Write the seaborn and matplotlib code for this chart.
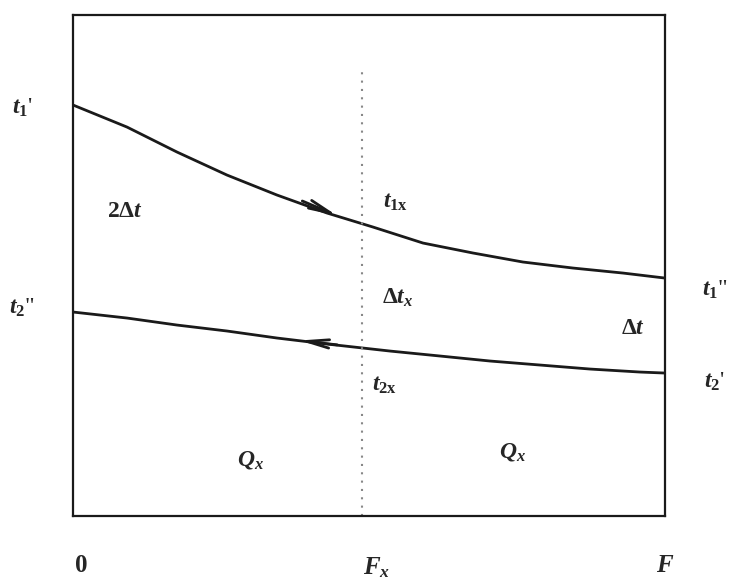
import numpy as np
import pandas as pd
import matplotlib
matplotlib.use('Agg')
import matplotlib.pyplot as plt
import matplotlib.transforms as mtransforms
import seaborn as sns

# Curve points (x as fraction of F, y as fraction of box height)
hot_x = [0.0, 0.0912, 0.1757, 0.2601, 0.3446, 0.4291, 0.5068, 0.5912, 0.6757, 0.7601, 0.8446, 0.9291, 1.0]
hot_y = [0.8204, 0.7764, 0.7265, 0.6806, 0.6407, 0.6048, 0.5768, 0.5449, 0.5250, 0.5070, 0.4950, 0.4850, 0.4750]
cold_x = [0.0, 0.0912, 0.1757, 0.2601, 0.3446, 0.4291, 0.5355, 0.6199, 0.7044, 0.7889, 0.8733, 0.9578, 1.0]
cold_y = [0.4072, 0.3952, 0.3812, 0.3693, 0.3553, 0.3433, 0.3293, 0.3194, 0.3094, 0.3014, 0.2934, 0.2874, 0.2854]
fx = 0.488
tick_pos = [0.0, fx, 1.0]
tick_labels = ['$\\mathbf{0}$', '$F_x$', '$F$']

sns.set_style('white')
plt.rcParams['font.family'] = ['Liberation Serif', 'DejaVu Serif']
plt.rcParams['mathtext.fontset'] = 'custom'
plt.rcParams['mathtext.it'] = 'Liberation Serif:italic:bold'
plt.rcParams['mathtext.rm'] = 'Liberation Serif:bold'
plt.rcParams['mathtext.bf'] = 'Liberation Serif:bold'

fig = plt.figure(figsize=(7.43, 5.88), dpi=100)
ax = fig.add_axes([0.0983, 0.1224, 0.7967, 0.8520])

df = pd.concat([
    pd.DataFrame({'x': hot_x, 'y': hot_y, 'fluid': 'hot'}),
    pd.DataFrame({'x': cold_x, 'y': cold_y, 'fluid': 'cold'}),
])
sns.lineplot(data=df, x='x', y='y', units='fluid', estimator=None, sort=False,
             color='#1a1a1a', linewidth=2.0, ax=ax, legend=False)

ax.plot([fx, fx], [0, 0.896], linestyle=(0, (1, 3)), color='#888888', linewidth=1.5)

# flow arrows
arrow = dict(arrowstyle='->,head_length=1.6,head_width=0.3', color='#1a1a1a', lw=2)
ax.annotate('', xy=(0.451, 0.597), xytext=(0.383, 0.631), arrowprops=arrow)
ax.annotate('', xy=(0.378, 0.351), xytext=(0.451, 0.341), arrowprops=arrow)

ax.set_xlim(0, 1)
ax.set_ylim(0, 1)
ax.set_xlabel('')
ax.set_ylabel('')
ax.set_yticks([])
ax.set_xticks(tick_pos)
ax.set_xticklabels(tick_labels, fontsize=18)
ax.tick_params(axis='x', length=0, pad=28)
for lab, dx in zip(ax.get_xticklabels(), [8, 15, 0]):
    lab.set_transform(lab.get_transform() + mtransforms.ScaledTranslation(dx / 100, 0, fig.dpi_scale_trans))
for s in ax.spines.values():
    s.set_linewidth(1.6)
    s.set_color('#1a1a1a')

fs = 17
txt = dict(fontsize=fs, ha='center', va='center', clip_on=False)
ax.text(-0.086, 0.814, "$t_1$'", **txt)
ax.text(-0.086, 0.415, "$t_2$\"", **txt)
ax.text(1.084, 0.451, "$t_1$\"", **txt)
ax.text(1.084, 0.267, "$t_2$'", **txt)
ax.text(0.088, 0.607, r"$\mathbf{2}\Delta t$", **txt)
ax.text(0.544, 0.627, r"$t_{1\mathrm{x}}$", **txt)
ax.text(0.549, 0.435, r"$\Delta t_x$", **txt)
ax.text(0.527, 0.261, r"$t_{2\mathrm{x}}$", **txt)
ax.text(0.946, 0.375, r"$\Delta t$", **txt)
ax.text(0.299, 0.112, r"$Q_x$", **txt)
ax.text(0.743, 0.128, r"$Q_x$", **txt)

fig.savefig('out.png', dpi=100)
